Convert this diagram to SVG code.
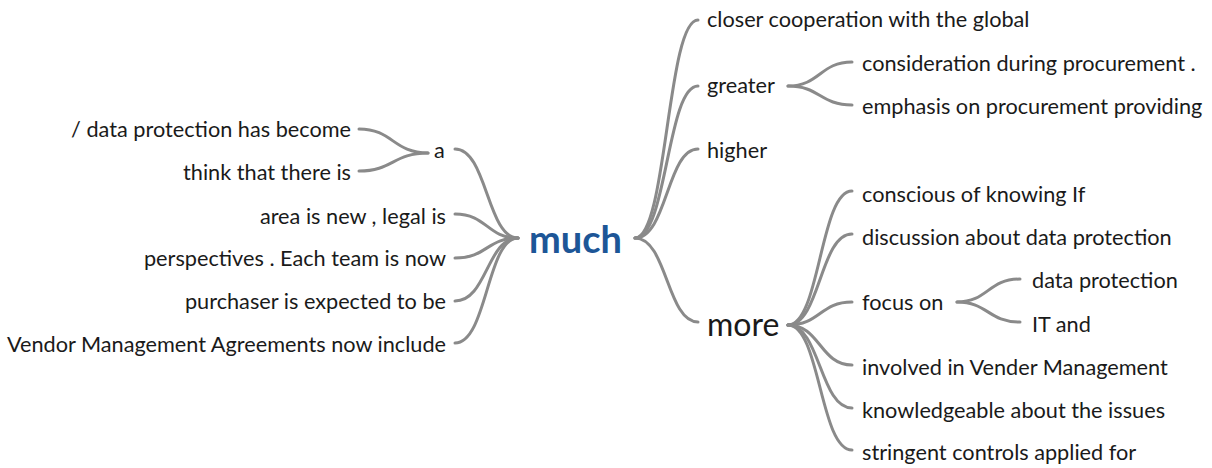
<svg xmlns="http://www.w3.org/2000/svg" width="1212" height="468" viewBox="0 0 1212 468">
<style>
text{font-family:Lato,"Noto Sans",sans-serif;font-size:21.7px;fill:#1a1a1a}
.e{text-anchor:end}
.root{font-size:38px;font-weight:bold;fill:#1d5697}
.big{font-size:32px}
#connectors path{fill:none;stroke:#8a8a8a;stroke-width:3;stroke-linecap:round}
</style>
<rect width="1212" height="468" fill="#ffffff"/>
<g id="connectors">
<path d="M359 129 C393 129 393 153 428 153"/>
<path d="M359 171 C393 171 393 153 428 153"/>
<path d="M455 149 C487 149 487 238 518 238"/>
<path d="M455 214 C487 214 487 238 518 238"/>
<path d="M455 258 C487 258 487 238 518 238"/>
<path d="M455 301 C487 301 487 238 518 238"/>
<path d="M455 343 C487 343 487 238 518 238"/>
<path d="M635 238 C667 238 667 20 698 20"/>
<path d="M635 238 C667 238 667 86 698 86"/>
<path d="M635 238 C667 238 667 149 698 149"/>
<path d="M635 238 C667 238 667 322 698 322"/>
<path d="M788 86 C820 86 820 62 852 62"/>
<path d="M788 86 C820 86 820 105 852 105"/>
<path d="M788 325 C820 325 820 191 852 191"/>
<path d="M788 325 C820 325 820 234 852 234"/>
<path d="M788 325 C820 325 820 302 852 302"/>
<path d="M788 325 C820 325 820 365 852 365"/>
<path d="M788 325 C820 325 820 408 852 408"/>
<path d="M788 325 C820 325 820 450 852 450"/>
<path d="M957 302 C988 302 988 279 1020 279"/>
<path d="M957 302 C988 302 988 322 1020 322"/>
</g>
<g id="n-much"><text class="root" x="529" y="253">much</text></g>
<g id="n-a"><text x="434" y="158">a</text></g>
<g id="n-become"><text class="e" x="351" y="137">/ data protection has become</text></g>
<g id="n-think"><text class="e" x="351" y="180">think that there is</text></g>
<g id="n-area"><text class="e" x="446" y="224">area is new , legal is</text></g>
<g id="n-persp"><text class="e" x="446" y="266">perspectives . Each team is now</text></g>
<g id="n-purch"><text class="e" x="446" y="309">purchaser is expected to be</text></g>
<g id="n-vendor"><text class="e" x="446" y="352">Vendor Management Agreements now include</text></g>
<g id="n-closer"><text x="707" y="27">closer cooperation with the global</text></g>
<g id="n-greater"><text x="707" y="93">greater</text></g>
<g id="n-consid"><text x="862" y="71">consideration during procurement .</text></g>
<g id="n-emph"><text x="862" y="114">emphasis on procurement providing</text></g>
<g id="n-higher"><text x="707" y="158">higher</text></g>
<g id="n-more"><text class="big" x="707" y="336">more</text></g>
<g id="n-conscious"><text x="862" y="202">conscious of knowing If</text></g>
<g id="n-discussion"><text x="862" y="245">discussion about data protection</text></g>
<g id="n-focus"><text x="862" y="310">focus on</text></g>
<g id="n-dp"><text x="1032" y="288">data protection</text></g>
<g id="n-it"><text x="1032" y="332">IT and</text></g>
<g id="n-involved"><text x="862" y="375">involved in Vender Management</text></g>
<g id="n-knowledge"><text x="862" y="418">knowledgeable about the issues</text></g>
<g id="n-stringent"><text x="862" y="460">stringent controls applied for</text></g>
</svg>
